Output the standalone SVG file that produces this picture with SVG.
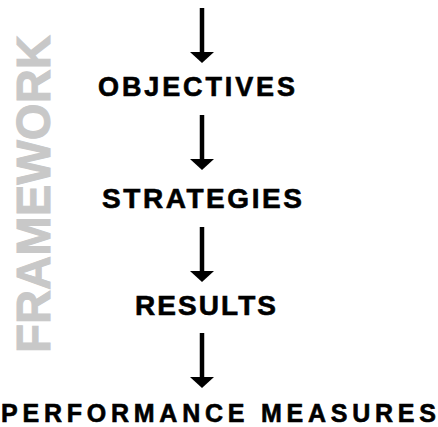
<svg xmlns="http://www.w3.org/2000/svg" width="438" height="427" viewBox="0 0 438 427">
<defs>
<style>
.lbl{font-family:"Liberation Sans",Arial,sans-serif;font-weight:700;font-size:27px;fill:#000;stroke:#000;stroke-width:0.6}
.side{font-family:"Liberation Sans",Arial,sans-serif;font-weight:700;font-size:48px;fill:#c8c8c8;stroke:#c8c8c8;stroke-width:1}
.conn{stroke:#000;stroke-width:4.5;fill:none}
</style>
<marker id="ah" markerUnits="userSpaceOnUse" viewBox="0 0 11 24" markerWidth="11" markerHeight="24" refX="0.5" refY="12" orient="auto">
<path d="M0,0 L11,12 L0,24 Z" fill="#000"/>
</marker>
</defs>
<rect width="438" height="427" fill="#fff"/>
<g id="framework">
<text class="side" transform="translate(50,353) rotate(-90)" x="0" y="0" textLength="318" lengthAdjust="spacingAndGlyphs">FRAMEWORK</text>
</g>
<g id="connectors">
<line class="conn" x1="202" y1="8" x2="202" y2="52.5" marker-end="url(#ah)"/>
<line class="conn" x1="202" y1="115" x2="202" y2="159.5" marker-end="url(#ah)"/>
<line class="conn" x1="202" y1="227" x2="202" y2="271.5" marker-end="url(#ah)"/>
<line class="conn" x1="202" y1="333" x2="202" y2="377.5" marker-end="url(#ah)"/>
</g>
<g id="objectives">
<text class="lbl" x="98" y="96" textLength="197" lengthAdjust="spacing">OBJECTIVES</text>
</g>
<g id="strategies">
<text class="lbl" x="102" y="208" textLength="200" lengthAdjust="spacing" style="font-size:28px">STRATEGIES</text>
</g>
<g id="results">
<text class="lbl" x="135" y="315" textLength="141" lengthAdjust="spacing" style="font-size:28px">RESULTS</text>
</g>
<g id="performance">
<text class="lbl" x="1" y="422" textLength="435" lengthAdjust="spacing" style="font-size:25px">PERFORMANCE MEASURES</text>
</g>
</svg>
